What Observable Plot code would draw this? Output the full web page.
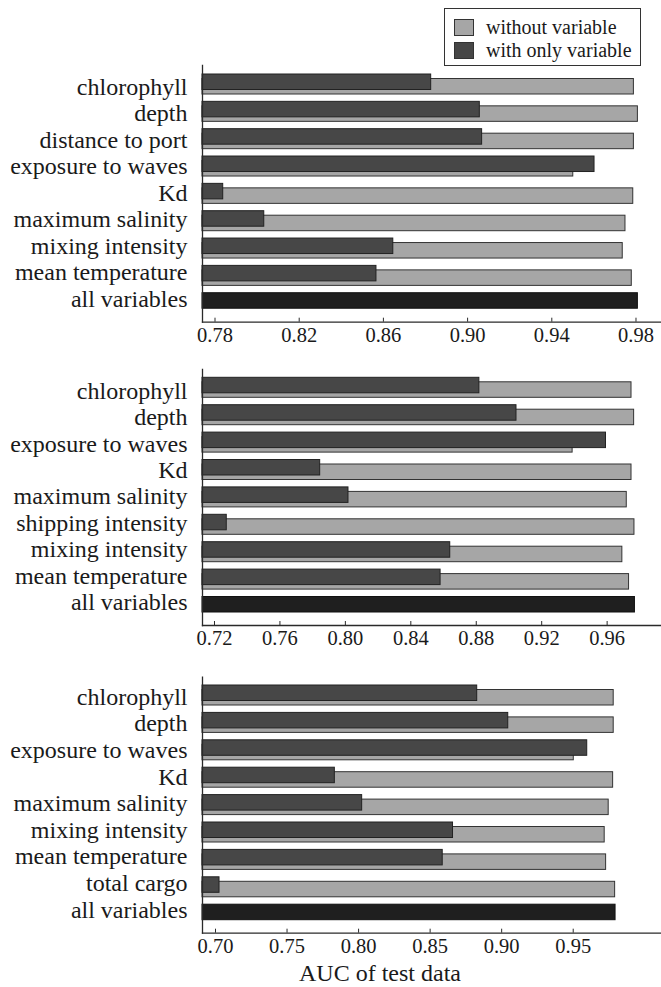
<!DOCTYPE html>
<html>
<head>
<meta charset="utf-8">
<script src="https://cdn.jsdelivr.net/npm/d3@7"></script>
<script src="https://cdn.jsdelivr.net/npm/@observablehq/plot@0.6"></script>
<style>
  body { margin: 0; background: #fff; }
  #root { position: relative; width: 661px; height: 987px; overflow: hidden; font-family: "Liberation Serif", "Times New Roman", serif; color: #1a1a1a; }
  .abs { position: absolute; }
  .leg { position: absolute; left: 444px; top: 8px; width: 197px; height: 58px; border: 1px solid #333; background: #fff; box-sizing: border-box; }
  .sw { position: absolute; left: 9px; width: 20px; height: 17px; border: 1px solid #333; box-sizing: border-box; }
  .lt { position: absolute; left: 41px; font-size: 20px; line-height: 20px; white-space: nowrap; }
</style>
</head>
<body>
<div id="root"></div>
<script>
// ---------- data ----------
const categories1 = ["chlorophyll", "depth", "distance to port", "exposure to waves", "Kd", "maximum salinity", "mixing intensity", "mean temperature", "all variables"];
const without1  = [0.9790, 0.9809, 0.9790, 0.9502, 0.9787, 0.9750, 0.9737, 0.9780];
const withOnly1 = [0.8827, 0.9058, 0.9069, 0.9603, 0.7839, 0.8034, 0.8647, 0.8567];
const allVariables1 = 0.9809;
const ticks1 = [0.78, 0.82, 0.86, 0.90, 0.94, 0.98];

const categories2 = ["chlorophyll", "depth", "exposure to waves", "Kd", "maximum salinity", "shipping intensity", "mixing intensity", "mean temperature", "all variables"];
const without2  = [0.9749, 0.9765, 0.9389, 0.9749, 0.9720, 0.9767, 0.9693, 0.9734];
const withOnly2 = [0.8819, 0.9046, 0.9593, 0.7846, 0.8019, 0.7275, 0.8641, 0.8582];
const allVariables2 = 0.9770;
const ticks2 = [0.72, 0.76, 0.80, 0.84, 0.88, 0.92, 0.96];

const categories3 = ["chlorophyll", "depth", "exposure to waves", "Kd", "maximum salinity", "mixing intensity", "mean temperature", "total cargo", "all variables"];
const without3  = [0.9783, 0.9783, 0.9504, 0.9779, 0.9748, 0.9720, 0.9730, 0.9793];
const withOnly3 = [0.8829, 0.9046, 0.9598, 0.7834, 0.8025, 0.8660, 0.8588, 0.7028];
const allVariables3 = 0.9796;
const ticks3 = [0.70, 0.75, 0.80, 0.85, 0.90, 0.95];

const legendLabels = ["without variable", "with only variable"];
const xTitle = "AUC of test data";

// ---------- styles ----------
const FONT = "'Liberation Serif', 'Times New Roman', serif";
const C_LIGHT = "#a6a6a6", C_DARK = "#474747", C_ALL = "#1f1f1f", C_LINE = "#2a2a2a";

const root = document.getElementById("root");

function panel(cfg) {
  const {cats, without, withOnly, all, ticks, domain, svgTop, svgH, axisTop, axisBottom, darkTop, pitch, labelFirst, labelLast, fmt} = cfg;
  const rows = cats.slice(0, -1).map((c, i) => ({cat: c, without: without[i], withOnly: withOnly[i]}));
  const allRow = [{cat: cats[cats.length - 1], value: all}];
  const frameH = axisBottom - axisTop;
  const outer = frameH - cats.length * pitch;
  const insD = 2, barH = 15.5, off = 4.5;
  const lo = domain[0];

  const svg = Plot.plot({
    width: 661, height: svgH,
    marginLeft: 202, marginRight: 1,
    marginTop: axisTop - svgTop, marginBottom: svgTop + svgH - axisBottom,
    x: {domain, axis: null},
    y: {type: "band", domain: cats, paddingInner: 0, paddingOuter: outer / (2 * pitch), align: (darkTop - insD - axisTop) / outer, round: false, axis: null},
    style: {fontFamily: FONT, fontSize: "20.5px", color: "#1a1a1a", background: "transparent"},
    marks: [
      Plot.barX(rows, {y: "cat", x1: () => lo, x2: "without", fill: C_LIGHT, stroke: "#333", strokeWidth: 1,
        insetTop: insD + off, insetBottom: pitch - insD - off - barH}),
      Plot.barX(rows, {y: "cat", x1: () => lo, x2: "withOnly", fill: C_DARK, stroke: "#222", strokeWidth: 1,
        insetTop: insD, insetBottom: pitch - insD - barH}),
      Plot.barX(allRow, {y: "cat", x1: () => lo, x2: "value", fill: C_ALL, stroke: "#111", strokeWidth: 1,
        insetTop: insD, insetBottom: pitch - insD - barH}),
      Plot.frame({anchor: "left", stroke: C_LINE, strokeWidth: 1.3}),
      Plot.frame({anchor: "bottom", stroke: C_LINE, strokeWidth: 1.3}),
      Plot.tickX(ticks, {x: d => d, insetTop: frameH - 4, stroke: C_LINE, strokeWidth: 1}),
      Plot.axisX(ticks, {tickSize: 0, tickPadding: 5, tickFormat: fmt, label: null, fill: "#1a1a1a"})
    ]
  });
  const d1 = document.createElement("div");
  d1.className = "abs";
  d1.style.left = "0px"; d1.style.top = svgTop + "px";
  d1.appendChild(svg);
  root.appendChild(d1);

  const fs = 24, shift = 0.32 * fs;
  const lab = Plot.plot({
    width: 200, height: svgH,
    marginLeft: 0, marginRight: 13,
    marginTop: labelFirst - shift - svgTop, marginBottom: svgTop + svgH - (labelLast - shift),
    y: {type: "point", domain: cats, padding: 0, round: false, axis: null},
    style: {fontFamily: FONT, fontSize: fs + "px", color: "#1a1a1a", background: "transparent"},
    marks: [
      Plot.text(cats, {y: d => d, text: d => d, frameAnchor: "right", textAnchor: "end", lineAnchor: "middle", fill: "#1a1a1a"})
    ]
  });
  const d2 = document.createElement("div");
  d2.className = "abs";
  d2.style.left = "0px"; d2.style.top = svgTop + "px";
  d2.appendChild(lab);
  root.appendChild(d2);
}

const f2 = d3.format(".2f");

panel({cats: categories1, without: without1, withOnly: withOnly1, all: allVariables1, ticks: ticks1,
  domain: [0.77406, 0.99164], svgTop: 0, svgH: 350, axisTop: 65, axisBottom: 321.7, darkTop: 74, pitch: 27.34,
  labelFirst: 94.3, labelLast: 306.5, fmt: f2});

panel({cats: categories2, without: without2, withOnly: withOnly2, all: allVariables2, ticks: ticks2,
  domain: [0.71267, 0.99262], svgTop: 350, svgH: 310, axisTop: 369, axisBottom: 625, darkTop: 377.3, pitch: 27.4,
  labelFirst: 398.3, labelLast: 609.5, fmt: f2});

panel({cats: categories3, without: without3, withOnly: withOnly3, all: allVariables3, ticks: ticks3,
  domain: [0.69091, 1.01101], svgTop: 660, svgH: 300, axisTop: 676.7, axisBottom: 932.7, darkTop: 685, pitch: 27.4,
  labelFirst: 704.3, labelLast: 917, fmt: f2});

// legend
const leg = document.createElement("div");
leg.className = "leg";
const swColors = [C_LIGHT, C_DARK];
const swTops = [10, 33];
legendLabels.forEach((t, i) => {
  const sw = document.createElement("div");
  sw.className = "sw";
  sw.style.top = swTops[i] + "px";
  sw.style.background = swColors[i];
  leg.appendChild(sw);
  const tx = document.createElement("div");
  tx.className = "lt";
  tx.style.top = (swTops[i] - 2) + "px";
  tx.textContent = t;
  leg.appendChild(tx);
});
root.appendChild(leg);

// x title
const title = document.createElement("div");
title.className = "abs";
title.style.left = "299px";
title.style.top = "961px";
title.style.fontSize = "24px";
title.style.lineHeight = "24px";
title.style.whiteSpace = "nowrap";
title.textContent = xTitle;
root.appendChild(title);
</script>
</body>
</html>
